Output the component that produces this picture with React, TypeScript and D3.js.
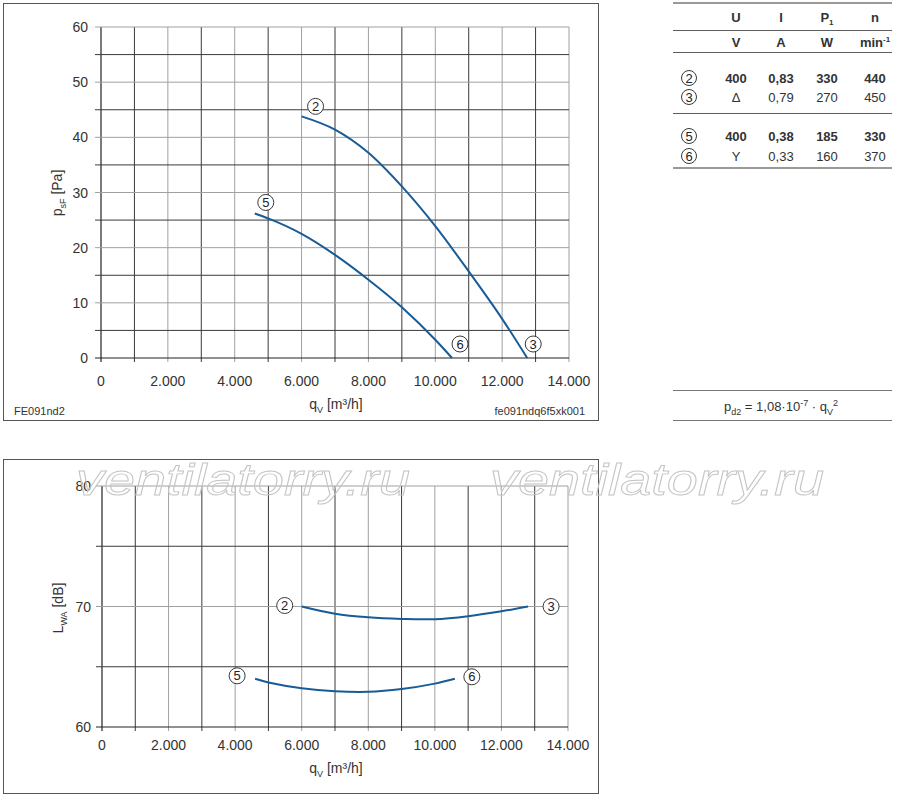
import * as d3 from "d3";

// fan curve data
const flowTicks = [0, 2000, 4000, 6000, 8000, 10000, 12000, 14000];
const flowMinor = d3.range(0, 14001, 1000);
const pressureTicks = [0, 10, 20, 30, 40, 50, 60];
const pressureMinor = d3.range(0, 61, 5);
const soundTicks = [60, 70, 80];
const soundMinor = [60, 65, 70, 75, 80];

const flowHigh = [6000, 7000, 8000, 9000, 10000, 11000, 12000, 12750];
const pressureHigh = [43.8, 41.4, 37.2, 31.1, 23.9, 15.7, 7.1, 0];
const flowLow = [4600, 5000, 6000, 7000, 8000, 9000, 10000, 10500];
const pressureLow = [26.2, 25.3, 22.5, 18.7, 14.2, 9.2, 3.3, 0];

const soundFlowHigh = [6000, 7000, 8000, 9000, 10000, 11000, 12000, 12800];
const soundHigh = [70.0, 69.4, 69.1, 68.97, 68.95, 69.2, 69.6, 70.0];
const soundFlowLow = [4600, 5000, 6000, 7000, 8000, 9000, 10000, 10600];
const soundLow = [64.0, 63.7, 63.22, 62.97, 62.92, 63.15, 63.6, 64.0];

const tableHeads = ["U", "I", "P", "n"];
const tableUnits = ["V", "A", "W", "min"];
const tableRows = [
  { id: "2", vals: ["400", "0,83", "330", "440"], bold: true },
  { id: "3", vals: ["\u0394", "0,79", "270", "450"], bold: false },
  { id: "5", vals: ["400", "0,38", "185", "330"], bold: true },
  { id: "6", vals: ["Y", "0,33", "160", "370"], bold: false },
];

const FONT = "'Liberation Sans', Arial, sans-serif";
const BLUE = "#175c98";
const TXT = "#333";
const MAJOR = "#a0a0a0";
const MINOR = "#3a3a3a";

const de = d3.formatLocale({ decimal: ",", thousands: ".", grouping: [3], currency: ["", "€"] });
const fmt = de.format(",d");

const zip = (a: number[], b: number[]) => a.map((v, i) => [v, b[i]] as [number, number]);

const Circled = ({ x, y, t, r = 8 }: { x: number; y: number; t: string; r?: number }) => (
  <g>
    <circle cx={x} cy={y} r={r} fill="#fff" stroke="#222" strokeWidth={0.9} />
    <text x={x} y={y + 4.5} textAnchor="middle" fontSize={13} fill="#222">{t}</text>
  </g>
);

const App = () => {
  // top chart scales
  const xTop = d3.scaleLinear().domain([0, 14000]).range([101, 569]);
  const yTop = d3.scaleLinear().domain([0, 60]).range([358, 27]);
  // bottom chart scales
  const xBot = d3.scaleLinear().domain([0, 14000]).range([102, 568]);
  const yBot = d3.scaleLinear().domain([60, 80]).range([727, 486]);

  const lineTop = d3.line<[number, number]>().x(d => xTop(d[0])).y(d => yTop(d[1])).curve(d3.curveMonotoneX);
  const lineBot = d3.line<[number, number]>().x(d => xBot(d[0])).y(d => yBot(d[1])).curve(d3.curveCatmullRom);

  const hi = zip(flowHigh, pressureHigh);
  const lo = zip(flowLow, pressureLow);
  const shi = zip(soundFlowHigh, soundHigh);
  const slo = zip(soundFlowLow, soundLow);

  const isMajorFlow = (v: number) => flowTicks.includes(v);

  const grid = (x: any, y: any, ys: number[], yMajor: number[], y0: number, y1: number) => (
    <g>
      {flowMinor.map(v => (
        <line key={"v" + v} x1={x(v)} x2={x(v)} y1={y(y1)} y2={y(y0) + 4}
          stroke={v === 0 ? "#222" : isMajorFlow(v) ? MAJOR : MINOR} strokeWidth={v === 0 ? 1.2 : 1} />
      ))}
      {ys.map(v => (
        <line key={"h" + v} x1={x(0) - 6} x2={x(14000)} y1={y(v)} y2={y(v)}
          stroke={v === y0 ? "#222" : yMajor.includes(v) ? MAJOR : MINOR} strokeWidth={v === y0 ? 1.2 : 1} />
      ))}
    </g>
  );

  const sub = (main: string, s: string, rest: string) => (
    <>
      {main}
      <tspan fontSize={9} dy={4}>{s}</tspan>
      <tspan dy={-4}>{rest}</tspan>
    </>
  );

  const colX = [736, 781, 827, 875];

  return (
    <svg width={900} height={797} style={{ position: "absolute", left: 0, top: 0, background: "#fff" }}
      fontFamily={FONT}>
      <rect x={0} y={0} width={900} height={797} fill="#fff" />

      {/* ---------- top chart ---------- */}
      <rect x={3.5} y={3.5} width={595} height={417} fill="none" stroke="#555" />
      {grid(xTop, yTop, pressureMinor, pressureTicks, 0, 60)}
      {pressureTicks.map(v => (
        <text key={v} x={88} y={yTop(v) + 5} textAnchor="end" fontSize={14} fill={TXT}>{v}</text>
      ))}
      {flowTicks.map(v => (
        <text key={v} x={xTop(v)} y={386} textAnchor="middle" fontSize={14} fill={TXT}>{fmt(v)}</text>
      ))}
      <text transform="translate(62,193) rotate(-90)" textAnchor="middle" fontSize={14} fill={TXT}>
        {sub("p", "sF", " [Pa]")}
      </text>
      <text x={336} y={409} textAnchor="middle" fontSize={14} fill={TXT}>{sub("q", "V", " [m³/h]")}</text>
      <text x={14} y={415} fontSize={11} fill={TXT}>FE091nd2</text>
      <text x={585} y={415} textAnchor="end" fontSize={11} fill={TXT}>fe091ndq6f5xk001</text>

      <path d={lineTop(hi) || ""} fill="none" stroke={BLUE} strokeWidth={2} />
      <path d={lineTop(lo) || ""} fill="none" stroke={BLUE} strokeWidth={2} />
      <Circled x={xTop(flowHigh[0]) + 14} y={yTop(pressureHigh[0]) - 10} t="2" />
      <Circled x={xTop(flowLow[0]) + 11} y={yTop(pressureLow[0]) - 11} t="5" />
      <Circled x={xTop(flowLow[flowLow.length - 1]) + 8} y={yTop(0) - 14} t="6" />
      <Circled x={xTop(flowHigh[flowHigh.length - 1]) + 6} y={yTop(0) - 14} t="3" />

      {/* ---------- table ---------- */}
      <line x1={673} x2={892} y1={3} y2={3} stroke="#999" strokeWidth={2} />
      {tableHeads.map((h, i) => (
        <text key={h} x={colX[i]} y={22} textAnchor="middle" fontSize={13} fontWeight="bold" fill={TXT}>
          {h}
          {h === "P" && <tspan fontSize={8} dy={3}>1</tspan>}
        </text>
      ))}
      <line x1={673} x2={892} y1={30.5} y2={30.5} stroke="#333" strokeWidth={0.8} />
      {tableUnits.map((u, i) => (
        <text key={u} x={colX[i]} y={47} textAnchor="middle" fontSize={13} fontWeight="bold" fill={TXT}>
          {u}
          {u === "min" && <tspan fontSize={8} dy={-5}>-1</tspan>}
        </text>
      ))}
      <line x1={673} x2={892} y1={52.5} y2={52.5} stroke="#333" strokeWidth={0.8} />
      {tableRows.map((r, ri) => {
        const y = [78, 97, 136, 156][ri];
        return (
          <g key={r.id}>
            <Circled x={689} y={y} t={r.id} r={7.5} />
            {r.vals.map((v, i) => (
              <text key={i} x={colX[i]} y={y + 5} textAnchor="middle" fontSize={13}
                fontWeight={r.bold ? "bold" : "normal"} fill={TXT}>{v}</text>
            ))}
          </g>
        );
      })}
      <line x1={673} x2={892} y1={113.5} y2={113.5} stroke="#333" strokeWidth={0.8} />
      <line x1={673} x2={892} y1={168} y2={168} stroke="#999" strokeWidth={2} />

      <line x1={673} x2={892} y1={390.5} y2={390.5} stroke="#777" strokeWidth={1} />
      <text x={781} y={411} textAnchor="middle" fontSize={13} fill={TXT}>
        p<tspan fontSize={9} dy={4}>d2</tspan>
        <tspan dy={-4}> = 1,08·10</tspan>
        <tspan fontSize={9} dy={-5}>-7</tspan>
        <tspan dy={5}> · q</tspan>
        <tspan fontSize={9} dy={4}>V</tspan>
        <tspan fontSize={9} dy={-9}>2</tspan>
      </text>
      <line x1={673} x2={892} y1={420.5} y2={420.5} stroke="#777" strokeWidth={1} />

      {/* ---------- bottom chart ---------- */}
      <rect x={3.5} y={459.5} width={595} height={334} fill="none" stroke="#555" />
      {grid(xBot, yBot, soundMinor, soundTicks, 60, 80)}
      {soundTicks.map(v => (
        <text key={v} x={91} y={yBot(v) + 5} textAnchor="end" fontSize={14} fill={TXT}>{v}</text>
      ))}
      {flowTicks.map(v => (
        <text key={v} x={xBot(v)} y={750} textAnchor="middle" fontSize={14} fill={TXT}>{fmt(v)}</text>
      ))}
      <text transform="translate(63,608) rotate(-90)" textAnchor="middle" fontSize={14} fill={TXT}>
        {sub("L", "WA", " [dB]")}
      </text>
      <text x={336} y={773} textAnchor="middle" fontSize={14} fill={TXT}>{sub("q", "V", " [m³/h]")}</text>

      <path d={lineBot(shi) || ""} fill="none" stroke={BLUE} strokeWidth={2} />
      <path d={lineBot(slo) || ""} fill="none" stroke={BLUE} strokeWidth={2} />
      <Circled x={xBot(soundFlowHigh[0]) - 17} y={yBot(soundHigh[0]) - 1} t="2" />
      <Circled x={xBot(soundFlowHigh[soundFlowHigh.length - 1]) + 23} y={yBot(70)} t="3" />
      <Circled x={xBot(soundFlowLow[0]) - 18} y={yBot(soundLow[0]) - 3} t="5" />
      <Circled x={xBot(soundFlowLow[soundFlowLow.length - 1]) + 17} y={yBot(64) - 2} t="6" />

      {/* watermark */}
      {[76, 490].map(x => (
        <text key={x} x={x} y={495} fontSize={45} fontStyle="italic" fill="none" stroke="#c4c4c4"
          strokeWidth={0.9} textLength={334} lengthAdjust="spacingAndGlyphs">ventilatorry.ru</text>
      ))}
    </svg>
  );
};

export default App;
